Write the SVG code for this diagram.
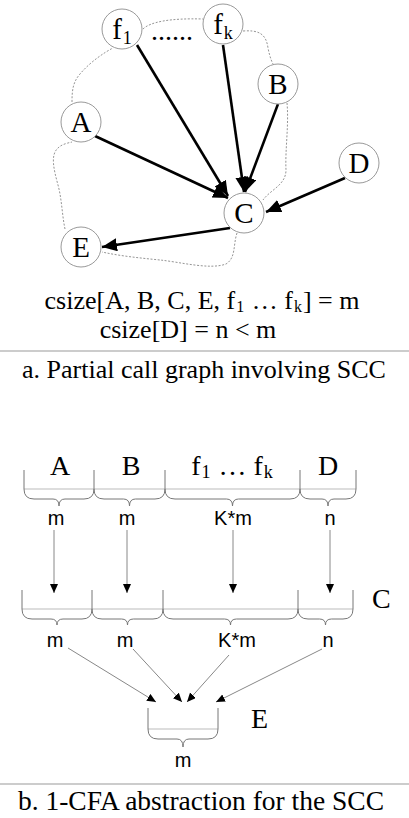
<svg xmlns="http://www.w3.org/2000/svg" width="409" height="818" viewBox="0 0 409 818">
<defs>
<style>
.node circle{fill:#fff;stroke:#999;stroke-width:1}
.serif{font-family:"Liberation Serif","Times New Roman",serif;fill:#000}
.sans{font-family:"Liberation Sans",Arial,sans-serif;fill:#000}
.nl{font-size:29px;text-anchor:middle}
.edge{stroke:#000;stroke-width:2.6;fill:none;marker-end:url(#big)}
.thin{stroke:#888;stroke-width:1;fill:none;marker-end:url(#small)}
.scc{stroke:#888;stroke-width:0.9;fill:none;stroke-dasharray:2 1.6}
.brace{stroke:#777;stroke-width:1;fill:none}
.hline{stroke:#bbb;stroke-width:1;fill:none}
.sep{stroke:#999;stroke-width:1}
</style>
<marker id="big" markerUnits="userSpaceOnUse" markerWidth="16" markerHeight="14" refX="15" refY="6.5" orient="auto">
<path d="M0,0 L15,6.5 L0,13 z" fill="#000"/>
</marker>
<marker id="small" markerUnits="userSpaceOnUse" markerWidth="10" markerHeight="9" refX="9" refY="4" orient="auto">
<path d="M0,0 L9,4 L0,8 z" fill="#000"/>
</marker>
</defs>
<rect width="409" height="818" fill="#fff"/>

<!-- part a: SCC boundary -->
<g id="scc-boundary">
<path class="scc" d="M143,29 C150,22 170,18 203,19"/>
<path class="scc" d="M243,31 C258,30 266,33 268,48 C270,58 272,62 273,64"/>
<path class="scc" d="M287,103 C289,125 285,150 286,170 C286,185 270,190 263,200"/>
<path class="scc" d="M237,233 C233,245 236,258 226,264 C210,270 180,262 160,260 C140,258 120,256 102,252"/>
<path class="scc" d="M65,229 C62,215 62,200 58,185 C54,170 50,155 58,148 C62,144 68,143 72,142"/>
<path class="scc" d="M72,102 C72,90 73,82 80,74 C90,62 105,52 113,48"/>
</g>

<g id="edges-a">
<line class="edge" x1="95" y1="136" x2="228" y2="198"/>
<line class="edge" x1="137" y1="45" x2="228" y2="196"/>
<line class="edge" x1="223" y1="45" x2="244" y2="192"/>
<line class="edge" x1="278" y1="104" x2="245" y2="192"/>
<line class="edge" x1="345" y1="178" x2="266" y2="212"/>
<line class="edge" x1="230" y1="228" x2="102" y2="247"/>
</g>

<g id="node-f1" class="node"><circle cx="122" cy="29" r="20"/><text class="serif nl" x="122" y="39">f<tspan font-size="18" dx="1" dy="5">1</tspan></text></g>
<g id="node-fk" class="node"><circle cx="223" cy="24" r="20"/><text class="serif nl" x="223" y="34">f<tspan font-size="18" dx="1" dy="5">k</tspan></text></g>
<g id="dots"><text class="serif" font-size="28" x="151" y="40">......</text></g>
<g id="node-B" class="node"><circle cx="278" cy="84" r="20"/><text class="serif nl" x="278" y="94">B</text></g>
<g id="node-A" class="node"><circle cx="81" cy="122" r="20"/><text class="serif nl" x="81" y="132">A</text></g>
<g id="node-D" class="node"><circle cx="359" cy="163" r="20"/><text class="serif nl" x="359" y="173">D</text></g>
<g id="node-C" class="node"><circle cx="244" cy="213" r="20"/><text class="serif nl" x="244" y="223">C</text></g>
<g id="node-E" class="node"><circle cx="81" cy="247" r="20"/><text class="serif nl" x="81" y="257">E</text></g>

<g id="csize-text">
<text class="serif" font-size="26" x="202" y="309" text-anchor="middle">csize[A, B, C, E, f<tspan font-size="16" dx="1" dy="3">1</tspan><tspan dx="1" dy="-3"> … f</tspan><tspan font-size="16" dx="1" dy="3">k</tspan><tspan dx="1" dy="-3">] = m</tspan></text>
<text class="serif" font-size="26" x="188" y="338" text-anchor="middle">csize[D] = n &lt; m</text>
</g>

<line class="sep" x1="0" y1="351" x2="409" y2="351"/>
<text class="serif" font-size="26" x="204" y="378" text-anchor="middle">a. Partial call graph involving SCC</text>

<!-- part b -->
<g id="row1">
<text class="serif" font-size="28" x="60" y="475" text-anchor="middle">A</text>
<text class="serif" font-size="28" x="131" y="475" text-anchor="middle">B</text>
<text class="serif" font-size="28" x="232" y="475" text-anchor="middle">f<tspan font-size="18" dx="1" dy="3">1</tspan><tspan dx="1" dy="-3"> … f</tspan><tspan font-size="18" dx="1" dy="3">k</tspan></text>
<text class="serif" font-size="28" x="328" y="475" text-anchor="middle">D</text>
<line class="hline" x1="24" y1="489" x2="356" y2="489"/>
<path class="brace" d="M24,470 V489 Q24,499 34,499 H53 Q59,499 59,506 Q59,499 65,499 H84 Q94,499 94,489 V470"/>
<path class="brace" d="M94,489 Q94,499 104,499 H123.5 Q129.5,499 129.5,506 Q129.5,499 135.5,499 H155 Q165,499 165,489 V470"/>
<path class="brace" d="M165,489 Q165,499 175,499 H226.5 Q232.5,499 232.5,506 Q232.5,499 238.5,499 H290 Q300,499 300,489 V470"/>
<path class="brace" d="M300,489 Q300,499 310,499 H322 Q328,499 328,506 Q328,499 334,499 H346 Q356,499 356,489 V470"/>
<text class="sans" font-size="20" x="56" y="525" text-anchor="middle">m</text>
<text class="sans" font-size="20" x="127" y="525" text-anchor="middle">m</text>
<text class="sans" font-size="20" x="233" y="525" text-anchor="middle">K*m</text>
<text class="sans" font-size="20" x="330" y="525" text-anchor="middle">n</text>
</g>

<g id="edges-b">
<line class="thin" x1="54" y1="530" x2="54" y2="593"/>
<line class="thin" x1="127" y1="530" x2="127" y2="593"/>
<line class="thin" x1="233" y1="530" x2="233" y2="593"/>
<line class="thin" x1="330" y1="530" x2="330" y2="593"/>
<line class="thin" x1="68" y1="648" x2="156" y2="702"/>
<line class="thin" x1="133" y1="649" x2="182" y2="702"/>
<line class="thin" x1="229" y1="655" x2="187" y2="702"/>
<line class="thin" x1="322" y1="649" x2="216" y2="702"/>
</g>

<g id="row-C">
<text class="serif" font-size="28" x="372" y="608">C</text>
<line class="hline" x1="22" y1="609" x2="353" y2="609"/>
<path class="brace" d="M22,590 V609 Q22,619 32,619 H51 Q57,619 57,625 Q57,619 63,619 H82 Q92,619 92,609 V590"/>
<path class="brace" d="M92,609 Q92,619 102,619 H121.5 Q127.5,619 127.5,625 Q127.5,619 133.5,619 H153 Q163,619 163,609 V590"/>
<path class="brace" d="M163,609 Q163,619 173,619 H224.5 Q230.5,619 230.5,625 Q230.5,619 236.5,619 H288 Q298,619 298,609 V590"/>
<path class="brace" d="M298,609 Q298,619 308,619 H319.5 Q325.5,619 325.5,625 Q325.5,619 331.5,619 H343 Q353,619 353,609 V590"/>
<text class="sans" font-size="20" x="55" y="647" text-anchor="middle">m</text>
<text class="sans" font-size="20" x="125" y="647" text-anchor="middle">m</text>
<text class="sans" font-size="20" x="237" y="647" text-anchor="middle">K*m</text>
<text class="sans" font-size="20" x="328" y="647" text-anchor="middle">n</text>
</g>

<g id="row-E">
<text class="serif" font-size="28" x="251" y="728">E</text>
<line class="hline" x1="148" y1="729" x2="218" y2="729"/>
<path class="brace" d="M148,708 V729 Q148,739 158,739 H177 Q183,739 183,747 Q183,739 189,739 H208 Q218,739 218,729 V708"/>
<text class="sans" font-size="20" x="183" y="767" text-anchor="middle">m</text>
</g>

<line class="sep" x1="0" y1="784" x2="409" y2="784"/>
<text class="serif" font-size="27.5" x="201" y="810" text-anchor="middle">b. 1-CFA abstraction for the SCC</text>
</svg>
